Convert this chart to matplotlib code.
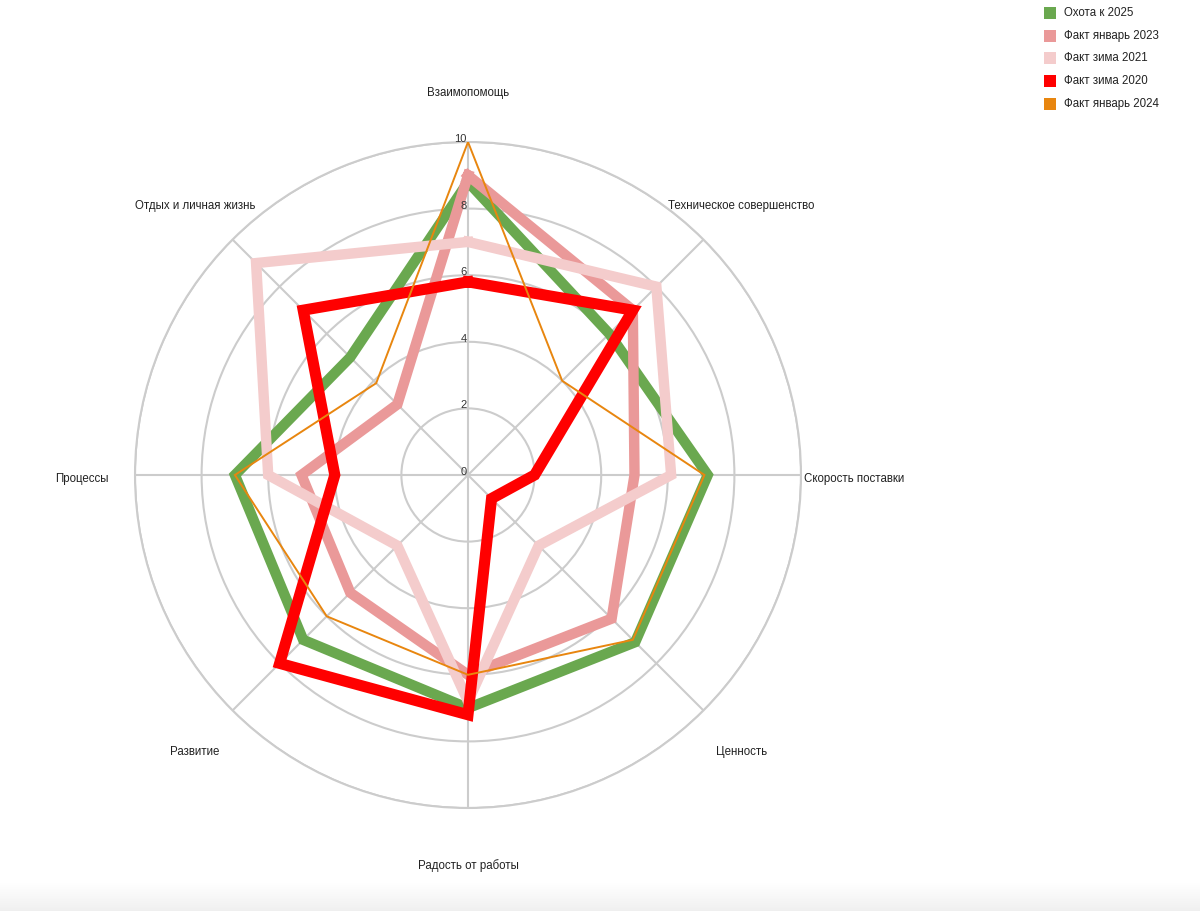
import numpy as np
import matplotlib
matplotlib.use("Agg")
import matplotlib.pyplot as plt
from matplotlib.patches import Rectangle
from matplotlib.transforms import offset_copy

plt.rcParams['font.family'] = ['Liberation Sans', 'DejaVu Sans']

categories = ["Взаимопомощь", "Техническое совершенство", "Скорость поставки", "Ценность",
              "Радость от работы", "Развитие", "Процессы", "Отдых и личная жизнь"]

series_names = ["Охота к 2025", "Факт январь 2023", "Факт зима 2021", "Факт зима 2020", "Факт январь 2024"]
hunt_2025 = [8.8, 6.0, 7.2, 7.1, 7.0, 7.0, 7.0, 5.0]
fact_jan_2023 = [9.0, 7.0, 5.0, 6.1, 6.0, 5.0, 5.0, 3.0]
fact_winter_2021 = [7.0, 8.0, 6.1, 3.0, 6.8, 3.0, 6.0, 9.0]
fact_winter_2020 = [5.8, 7.0, 2.0, 1.0, 7.2, 8.0, 4.0, 7.0]
fact_jan_2024 = [10.0, 4.0, 7.1, 7.0, 6.0, 6.0, 7.0, 3.9]
tick_values = [0, 2, 4, 6, 8, 10]

series = [hunt_2025, fact_jan_2023, fact_winter_2021, fact_winter_2020, fact_jan_2024]
colors = ["#6aa84f", "#ea9999", "#f4cccc", "#ff0000", "#e8860f"]
widths = [7.5, 7.5, 7.5, 8.0, 1.4]

W, H = 1200, 911
fig = plt.figure(figsize=(W / 100, H / 100), dpi=100)

cx, cy, R = 468, 475, 333
ax = fig.add_axes([(cx - R) / W, (H - cy - R) / H, 2 * R / W, 2 * R / H], projection='polar')
ax.set_theta_zero_location('N')
ax.set_theta_direction(-1)
ax.set_ylim(0, 10)

n = len(categories)
angles = np.arange(n) * 2 * np.pi / n

ax.set_xticks(angles)
ax.set_xticklabels([])
ax.set_yticks(tick_values[1:])
ax.set_yticklabels([])
ax.grid(True, color="#cccccc", linewidth=1.5)
ax.spines['polar'].set_color("#cccccc")
ax.spines['polar'].set_linewidth(1.5)
ax.tick_params(length=0)

for vals, col, lw, name in zip(series, colors, widths, series_names):
    a = np.append(angles, angles[0])
    v = np.append(vals, vals[0])
    ax.plot(a, v, color=col, linewidth=lw, solid_joinstyle='miter', label=name, zorder=3)

# tick labels along the vertical axis
tr = offset_copy(ax.transData, fig=fig, x=-1, y=-1.5, units='points')
for t in tick_values:
    ax.text(0, t, str(t), transform=tr, ha='right', va='bottom', fontsize=8,
            color="#333333", zorder=5)

# category labels
trl = offset_copy(ax.transData, fig=fig, x=0, y=-3, units='points')
for ang, lab in zip(angles, categories):
    ax.text(ang, 11.6, lab, transform=trl, ha='center', va='center', fontsize=8.3,
            color="#222222", clip_on=False)

# legend
for i, (name, col) in enumerate(zip(series_names, colors)):
    yc = 13 + i * 22.7
    fig.patches.append(Rectangle((1044 / W, 1 - (yc + 6) / H), 12 / W, 12 / H,
                                 transform=fig.transFigure, facecolor=col, edgecolor='none'))
    fig.text(1064 / W, 1 - yc / H, name, ha='left', va='center', fontsize=8.3, color="#222222")

# faint gray band at bottom (screenshot artifact)
bax = fig.add_axes([0, 0, 1, 28 / H])
grad = np.linspace(1.0, 0.94, 50).reshape(-1, 1)
bax.imshow(np.dstack([grad, grad, grad]), aspect='auto', extent=[0, 1, 1, 0])
bax.axis('off')

fig.savefig("out.png", dpi=100, facecolor='white')
